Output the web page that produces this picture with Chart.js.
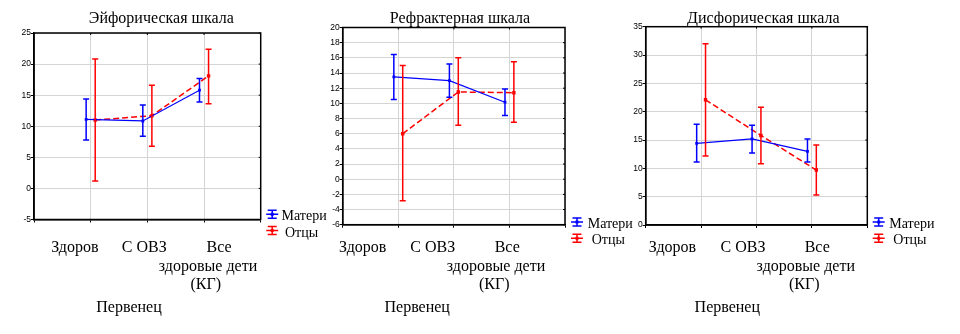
<!DOCTYPE html>
<html>
<head>
<meta charset="utf-8">
<script src="https://cdn.jsdelivr.net/npm/chart.js@4"></script>
<style>
html, body { margin: 0; padding: 0; background: #fff; }
#wrap { position: relative; width: 960px; height: 334px; }
#wrap canvas { position: absolute; left: 0; top: 0; }
</style>
</head>
<body>
<div id="wrap">
    <canvas id="euph" width="960" height="334"></canvas>
    <canvas id="refr" width="960" height="334"></canvas>
    <canvas id="dysph" width="960" height="334"></canvas>
</div>
<script>
var categories = [['Здоров'], ['С ОВЗ'], ['Все', 'здоровые дети', '(КГ)']];
var seriesNames = ['Матери', 'Отцы'];
var xAxisTitle = 'Первенец';

// Эйфорическая шкала
var euphTitle = 'Эйфорическая шкала';
var euphTicks = [-5, 0, 5, 10, 15, 20, 25];
var euphMothers = [11.1, 10.85, 15.8];
var euphMothersLow = [7.8, 8.4, 13.9];
var euphMothersHigh = [14.4, 13.4, 17.7];
var euphFathers = [11.0, 11.7, 18.1];
var euphFathersLow = [1.2, 6.8, 13.6];
var euphFathersHigh = [20.8, 16.6, 22.4];

// Рефрактерная шкала
var refrTitle = 'Рефрактерная шкала';
var refrTicks = [-6, -4, -2, 0, 2, 4, 6, 8, 10, 12, 14, 16, 18, 20];
var refrMothers = [13.5, 13.0, 10.15];
var refrMothersLow = [10.5, 10.8, 8.4];
var refrMothersHigh = [16.45, 15.2, 11.9];
var refrFathers = [6.0, 11.5, 11.4];
var refrFathersLow = [-2.85, 7.1, 7.5];
var refrFathersHigh = [15.0, 16.0, 15.5];

// Дисфорическая шкала
var dysphTitle = 'Дисфорическая шкала';
var dysphTicks = [0, 5, 10, 15, 20, 25, 30, 35];
var dysphMothers = [14.4, 15.2, 13.0];
var dysphMothersLow = [11.1, 12.7, 11.1];
var dysphMothersHigh = [17.8, 17.6, 15.2];
var dysphFathers = [22.1, 15.8, 9.7];
var dysphFathersLow = [12.2, 10.8, 5.3];
var dysphFathersHigh = [32.0, 20.8, 14.1];

const BLUE = '#0000ff';
const RED = '#ff0000';
const GRID = '#d4d4d4';
const SERIF = '"Liberation Serif", "Times New Roman", serif';
const SHIFT = 0.08;   // mothers left of the category, fathers right

var panels = [
    {
        canvas: 'euph', title: euphTitle, ticks: euphTicks,
        mothers: [euphMothers, euphMothersLow, euphMothersHigh],
        fathers: [euphFathers, euphFathersLow, euphFathersHigh],
        area: {left: 34, top: 33, right: 260.7, bottom: 219.5},
        titleDx: 127.3, catDx: [[40.8], [110.3], [185, 174, 171.8]], xTitleDx: 95,
        legendIcon: 5.5, legendText: [20.8, 24.3], legendY: [220.3, 236.5]
    },
    {
        canvas: 'refr', title: refrTitle, ticks: refrTicks,
        mothers: [refrMothers, refrMothersLow, refrMothersHigh],
        fathers: [refrFathers, refrFathersLow, refrFathersHigh],
        area: {left: 342.7, top: 27.5, right: 565, bottom: 224.7},
        titleDx: 117.3, catDx: [[20], [90.1], [164.5, 153.3, 151.5]], xTitleDx: 74.5,
        legendIcon: 6, legendText: [22.7, 26.7], legendY: [228, 244.3]
    },
    {
        canvas: 'dysph', title: dysphTitle, ticks: dysphTicks,
        mothers: [dysphMothers, dysphMothersLow, dysphMothersHigh],
        fathers: [dysphFathers, dysphFathersLow, dysphFathersHigh],
        area: {left: 645.7, top: 26.7, right: 867.3, bottom: 225},
        titleDx: 117.6, catDx: [[26.8], [97.3], [171.5, 160.1, 158.5]], xTitleDx: 81.6,
        legendIcon: 5.4, legendText: [22, 26], legendY: [228, 244.3]
    }
];

// vertical whiskers with caps, from errLow/errHigh of each dataset
const errorBars = {
    id: 'errorBars',
    afterDatasetsDraw(chart) {
        const {ctx, scales: {x, y}} = chart;
        chart.data.datasets.forEach(ds => {
            ctx.save();
            ctx.strokeStyle = ds.borderColor;
            ctx.lineWidth = 1.5;
            ds.data.forEach((p, i) => {
                const px = x.getPixelForValue(p.x);
                const lo = y.getPixelForValue(ds.errLow[i]);
                const hi = y.getPixelForValue(ds.errHigh[i]);
                ctx.beginPath();
                ctx.moveTo(px, lo); ctx.lineTo(px, hi);
                ctx.moveTo(px - 3, lo); ctx.lineTo(px + 3, lo);
                ctx.moveTo(px - 3, hi); ctx.lineTo(px + 3, hi);
                ctx.stroke();
            });
            ctx.restore();
        });
    }
};

function legendIcon(ctx, x0, cy, color) {
    const cx = x0 + 6;
    ctx.save();
    ctx.strokeStyle = color;
    ctx.fillStyle = color;
    ctx.lineWidth = 1.5;
    ctx.beginPath();
    ctx.moveTo(x0, cy); ctx.lineTo(x0 + 12, cy);
    ctx.moveTo(cx, cy - 4); ctx.lineTo(cx, cy + 4);
    ctx.moveTo(cx - 4.5, cy - 4); ctx.lineTo(cx + 4.5, cy - 4);
    ctx.moveTo(cx - 4.5, cy + 4); ctx.lineTo(cx + 4.5, cy + 4);
    ctx.stroke();
    ctx.fillRect(cx - 1.5, cy - 1.5, 3, 3);
    ctx.restore();
}

function panelText(p) {
    return {
        id: 'panelText',
        afterDraw(chart) {
            const ctx = chart.ctx;
            const a = chart.chartArea;
            ctx.save();
            // frame with short inner ticks on top and right
            ctx.strokeStyle = '#000';
            ctx.lineWidth = 1.5;
            ctx.strokeRect(a.left, a.top, a.right - a.left, a.bottom - a.top);
            ctx.lineWidth = 1;
            ctx.beginPath();
            chart.scales.y.ticks.forEach(t => {
                const py = chart.scales.y.getPixelForValue(t.value);
                ctx.moveTo(a.right - 2, py); ctx.lineTo(a.right, py);
            });
            [1, 2, 3].forEach(v => {
                const px = chart.scales.x.getPixelForValue(v);
                ctx.moveTo(px, a.top); ctx.lineTo(px, a.top + 2);
            });
            ctx.stroke();

            ctx.fillStyle = '#000';
            ctx.textAlign = 'center';
            ctx.textBaseline = 'alphabetic';
            ctx.font = '16px ' + SERIF;
            ctx.fillText(p.title, a.left + p.titleDx, 22.7);

            const lineY = [251.5, 270.7, 289.3];
            categories.forEach((lines, i) => {
                lines.forEach((s, j) => ctx.fillText(s, a.left + p.catDx[i][j], lineY[j]));
            });
            ctx.fillText(xAxisTitle, a.left + p.xTitleDx, 311.7);

            ctx.textAlign = 'left';
            ctx.font = '14px ' + SERIF;
            [BLUE, RED].forEach((c, i) => {
                legendIcon(ctx, a.right + p.legendIcon, p.legendY[i] - 6, c);
                ctx.fillStyle = '#000';
                ctx.fillText(seriesNames[i], a.right + p.legendText[i], p.legendY[i]);
            });
            ctx.restore();
        }
    };
}

function series(label, vals, color, dx, dashed) {
    return {
        label: label,
        data: vals[0].map((v, i) => ({x: i + 1 + dx, y: v})),
        errLow: vals[1],
        errHigh: vals[2],
        borderColor: color,
        backgroundColor: color,
        borderWidth: dashed ? 1.5 : 1.2,
        borderDash: dashed ? [6, 3] : [],
        pointStyle: 'rect',
        pointRadius: dashed ? 2.4 : 2,
        pointBorderWidth: 0,
        pointBackgroundColor: color,
        tension: 0
    };
}

panels.forEach(p => {
    const t = p.ticks;
    const yWidth = 30;
    new Chart(document.getElementById(p.canvas), {
        type: 'line',
        data: {
            datasets: [
                series(seriesNames[0], p.mothers, BLUE, -SHIFT, false),
                series(seriesNames[1], p.fathers, RED, SHIFT, true)
            ]
        },
        options: {
            responsive: false,
            animation: false,
            events: [],
            layout: {
                padding: {
                    left: p.area.left - yWidth,
                    top: p.area.top,
                    right: 960 - p.area.right,
                    bottom: 334 - p.area.bottom
                }
            },
            plugins: {
                legend: {display: false},
                tooltip: {enabled: false}
            },
            scales: {
                x: {
                    type: 'linear',
                    min: 0,
                    max: 4,
                    ticks: {display: false, stepSize: 1},
                    grid: {color: GRID, tickColor: '#000', tickLength: 3},
                    border: {color: '#000', width: 1.5},
                    afterFit: s => { s.height = 0; }
                },
                y: {
                    min: t[0],
                    max: t[t.length - 1],
                    ticks: {
                        stepSize: t[1] - t[0],
                        padding: 0,
                        color: '#000',
                        font: {family: '"Liberation Sans", Arial, sans-serif', size: 8.5}
                    },
                    grid: {color: GRID, tickColor: '#000', tickLength: 3},
                    border: {color: '#000', width: 1.5},
                    afterFit: s => { s.width = yWidth; }
                }
            }
        },
        plugins: [errorBars, panelText(p)]
    });
});
</script>
</body>
</html>
